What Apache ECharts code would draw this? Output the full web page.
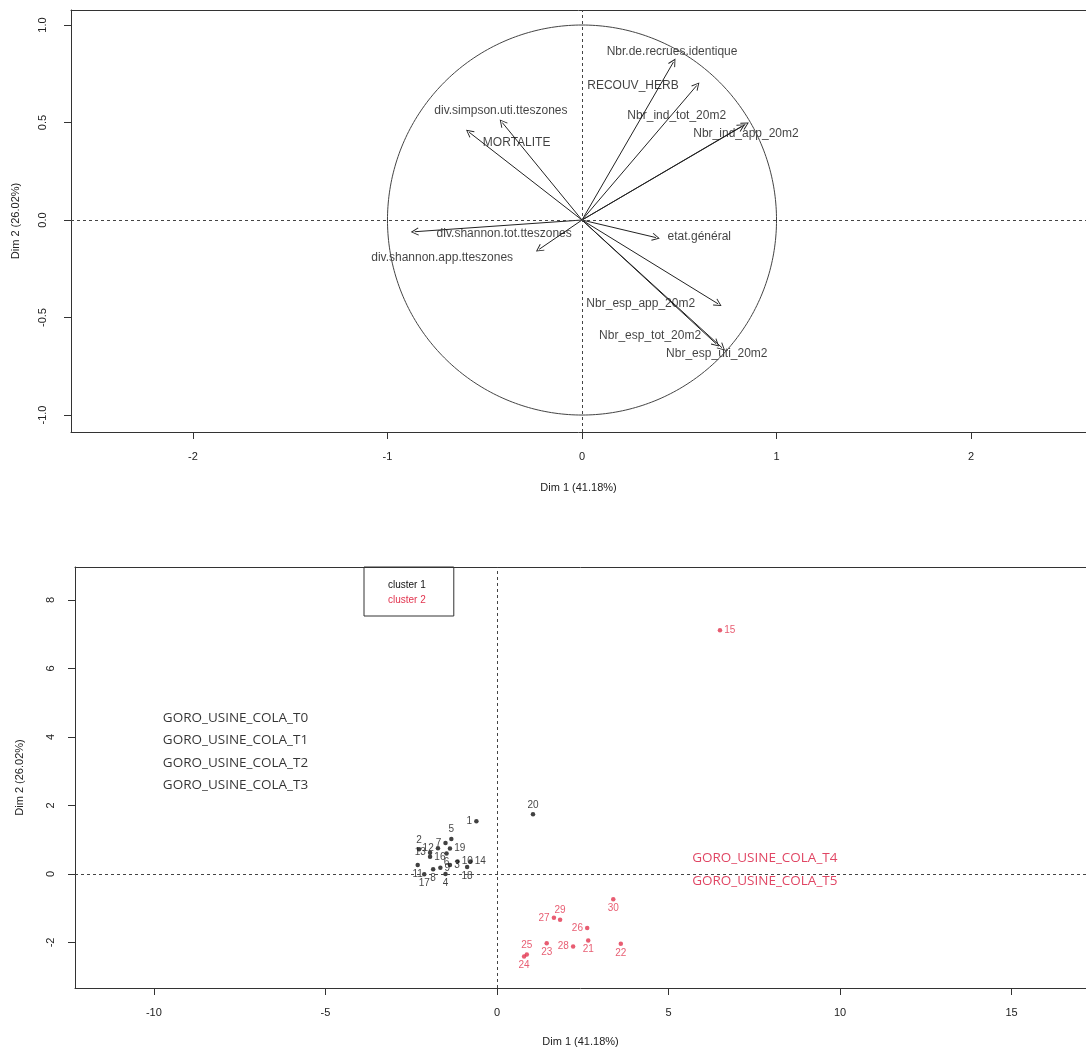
<!DOCTYPE html>
<html><head><meta charset="utf-8">
<script src="https://cdn.jsdelivr.net/npm/echarts@6/dist/echarts.min.js"></script>
<style>html,body{margin:0;padding:0;background:#fff}#c{width:1086px;height:1052px}</style>
</head><body><div id="c"></div>
<script>
// ---- Variables factor map (top) ----
const varNames = ['Nbr.de.recrues.identique','RECOUV_HERB','Nbr_ind_tot_20m2','Nbr_ind_app_20m2',
  'div.simpson.uti.tteszones','MORTALITE','div.shannon.tot.tteszones','div.shannon.app.tteszones',
  'etat.général','Nbr_esp_app_20m2','Nbr_esp_tot_20m2','Nbr_esp_uti_20m2'];
const varDim1 = [0.47, 0.59, 0.84, 0.82, -0.41, -0.58, -0.86, -0.22, 0.38, 0.70, 0.69, 0.72];
const varDim2 = [0.81, 0.69, 0.49, 0.48, 0.50, 0.45, -0.06, -0.15, -0.09, -0.43, -0.635, -0.655];
// label anchors (centre of text) in data units
const varLabelDim1 = [0.463, 0.262, 0.487, 0.843, -0.417, -0.336, -0.40, -0.719, 0.603, 0.302, 0.35, 0.693];
const varLabelDim2 = [0.862, 0.687, 0.533, 0.445, 0.561, 0.397, -0.068, -0.191, -0.085, -0.427, -0.595, -0.687];
const topXTicks = [-2, -1, 0, 1, 2];
const topYTicks = [-1, -0.5, 0, 0.5, 1];

// ---- Individuals factor map (bottom) ----
const indIds = ['1','2','3','4','5','6','7','8','9','10','11','12','13','14','15',
  '16','17','18','19','20','21','22','23','24','25','26','27','28','29','30'];
const indDim1 = [-0.60,-2.27,-1.37,-1.50,-1.33,-1.47,-1.50,-1.86,-1.65,-1.15,-2.31,-1.72,-1.95,-0.77,6.50,
  -1.95,-2.12,-0.87,-1.37,1.05,2.66,3.61,1.45,0.79,0.87,2.63,1.66,2.22,1.84,3.39];
const indDim2 = [1.54,0.72,0.26,0.00,1.02,0.60,0.90,0.14,0.18,0.36,0.26,0.75,0.62,0.36,7.11,
  0.50,-0.01,0.20,0.74,1.74,-1.94,-2.04,-2.02,-2.41,-2.35,-1.58,-1.28,-2.12,-1.34,-0.74];
const indCluster = [1,1,1,1,1,1,1,1,1,1,1,1,1,1,2,1,1,1,1,1,2,2,2,2,2,2,2,2,2,2];
const clusterNames = ['cluster 1', 'cluster 2'];
const botXTicks = [-10, -5, 0, 5, 10, 15];
const botYTicks = [-2, 0, 2, 4, 6, 8];

const annoTextsA = ['GORO_USINE_COLA_T0','GORO_USINE_COLA_T1','GORO_USINE_COLA_T2','GORO_USINE_COLA_T3'];
const annoADim1 = [-9.74, -9.74, -9.74, -9.74];
const annoADim2 = [4.56, 3.91, 3.24, 2.59];
const annoTextsB = ['GORO_USINE_COLA_T4','GORO_USINE_COLA_T5'];
const annoBDim1 = [5.69, 5.69];
const annoBDim2 = [0.47, -0.21];

// ---- style (not data) ----
const labelSide = ['left','top','right','bottom','top','bottom','left','bottom','right','right','bottom','left','left','right','right',
  'right','bottom','bottom','right','top','bottom','bottom','bottom','bottom','top','left','left','left','top','bottom'];
const clusterColors = ['#111111', '#E2344F'];
const FONT = '"Liberation Sans", Arial, sans-serif';
const CHEVRON = 'path://M0,0 L-4,9 L-3.2,9.6 L0,2.2 L3.2,9.6 L4,9 Z';

const circle = [];
for (let a = 0; a <= 360; a += 1) circle.push([Math.cos(a*Math.PI/180), Math.sin(a*Math.PI/180)]);

const fmt1 = v => (Math.abs(v) < 1e-9 ? 0 : v).toFixed(1);
const fmt0 = v => String(Math.round(v));

const lineCol = '#333';
function mainAxis(extra, ticks, fmt, margin, rotate) {
  return Object.assign({
    type: 'value',
    axisLine: {show: true, onZero: false, lineStyle: {color: lineCol, width: 1}},
    axisTick: {show: true, length: 7, customValues: ticks, lineStyle: {color: lineCol}},
    axisLabel: {customValues: ticks, formatter: fmt, margin: margin, rotate: rotate || 0, fontSize: 11, color: '#222', fontFamily: FONT},
    splitLine: {show: false},
    nameLocation: 'middle',
    nameTextStyle: {fontFamily: FONT, fontSize: 11, color: '#222'}
  }, extra);
}
function borderAxis(extra) {
  return Object.assign({
    type: 'value', position: 'top',
    axisLine: {show: true, onZero: false, lineStyle: {color: lineCol, width: 1}},
    axisTick: {show: false}, axisLabel: {show: false}, splitLine: {show: false}
  }, extra);
}

const TOPX = [-2.627, 2.591], TOPY = [-1.087, 1.077];
const BOTX = [-12.30, 17.17], BOTY = [-3.33, 8.96];

const dashedZero = {silent: true, symbol: 'none', label: {show: false}, lineStyle: {type: [3, 3], color: '#444', width: 1},
  data: [{xAxis: 0}, {yAxis: 0}]};

const option = {
  animation: false,
  backgroundColor: '#fff',
  textStyle: {fontFamily: FONT},
  grid: [
    {left: 71, top: 10, right: 0, height: 422, show: false, containLabel: false},
    {left: 75, top: 567, right: 0, height: 421, show: false, containLabel: false}
  ],
  legend: {
    data: [{name: clusterNames[0], textStyle: {color: clusterColors[0]}}, {name: clusterNames[1], textStyle: {color: clusterColors[1]}}],
    orient: 'vertical', left: 364, top: 567, itemWidth: 0, itemHeight: 0, itemGap: 5,
    padding: [13, 28, 11, 19], borderColor: '#333', borderWidth: 1, selectedMode: false,
    textStyle: {fontFamily: FONT, fontSize: 10}
  },
  xAxis: [
    mainAxis({gridIndex: 0, min: TOPX[0], max: TOPX[1], name: 'Dim 1 (41.18%)', nameGap: 50}, topXTicks, fmt0, 19),
    mainAxis({gridIndex: 1, min: BOTX[0], max: BOTX[1], name: 'Dim 1 (41.18%)', nameGap: 48}, botXTicks, fmt0, 19),
    borderAxis({gridIndex: 0, min: TOPX[0], max: TOPX[1]}),
    borderAxis({gridIndex: 1, min: BOTX[0], max: BOTX[1]})
  ],
  yAxis: [
    mainAxis({gridIndex: 0, min: TOPY[0], max: TOPY[1], name: 'Dim 2 (26.02%)', nameGap: 50, nameRotate: 90}, topYTicks, fmt1, 23, 90),
    mainAxis({gridIndex: 1, min: BOTY[0], max: BOTY[1], name: 'Dim 2 (26.02%)', nameGap: 50, nameRotate: 90}, botYTicks, fmt0, 19, 90)
  ],
  series: [
    {
      type: 'line', xAxisIndex: 0, yAxisIndex: 0, data: circle, symbol: 'none', silent: true,
      lineStyle: {color: '#444', width: 1},
      markLine: dashedZero
    },
    {
      type: 'lines', coordinateSystem: 'cartesian2d', xAxisIndex: 0, yAxisIndex: 0, silent: true,
      symbol: ['none', CHEVRON], symbolSize: [8, 8],
      lineStyle: {color: '#222', width: 1, opacity: 1},
      itemStyle: {color: '#222'},
      data: varNames.map((n, i) => ({coords: [[0, 0], [varDim1[i], varDim2[i]]]}))
    },
    {
      type: 'scatter', xAxisIndex: 0, yAxisIndex: 0, symbolSize: 0, silent: true,
      label: {show: true, position: 'inside', formatter: '{b}', color: '#111', fontSize: 12, fontFamily: FONT},
      data: varNames.map((n, i) => ({name: n, value: [varLabelDim1[i], varLabelDim2[i]]}))
    },
    ...clusterNames.map((cn, ci) => ({
      type: 'scatter', name: cn, xAxisIndex: 1, yAxisIndex: 1, symbol: 'circle', symbolSize: 4.5,
      itemStyle: {color: clusterColors[ci]},
      label: {show: true, formatter: '{b}', fontSize: 10, color: clusterColors[ci], distance: 2, fontFamily: FONT},
      markLine: ci === 0 ? dashedZero : undefined,
      data: indIds.map((id, i) => ({id, i})).filter(o => indCluster[o.i] === ci + 1)
        .map(o => ({name: o.id, value: [indDim1[o.i], indDim2[o.i]], label: {position: labelSide[o.i]}}))
    })),
    {
      type: 'scatter', xAxisIndex: 1, yAxisIndex: 1, symbolSize: 0, silent: true,
      label: {show: true, position: 'right', distance: 0, formatter: '{b}', color: '#000', fontSize: 13.5, fontFamily: '"Open Sans", sans-serif'},
      data: annoTextsA.map((t, i) => ({name: t, value: [annoADim1[i], annoADim2[i]]}))
    },
    {
      type: 'scatter', xAxisIndex: 1, yAxisIndex: 1, symbolSize: 0, silent: true,
      label: {show: true, position: 'right', distance: 0, formatter: '{b}', color: '#D8163C', fontSize: 13.5, fontFamily: '"Open Sans", sans-serif'},
      data: annoTextsB.map((t, i) => ({name: t, value: [annoBDim1[i], annoBDim2[i]]}))
    }
  ]
};

const chart = echarts.init(document.getElementById('c'), null, {renderer: 'canvas'});
chart.setOption(option);
</script>
</body></html>
